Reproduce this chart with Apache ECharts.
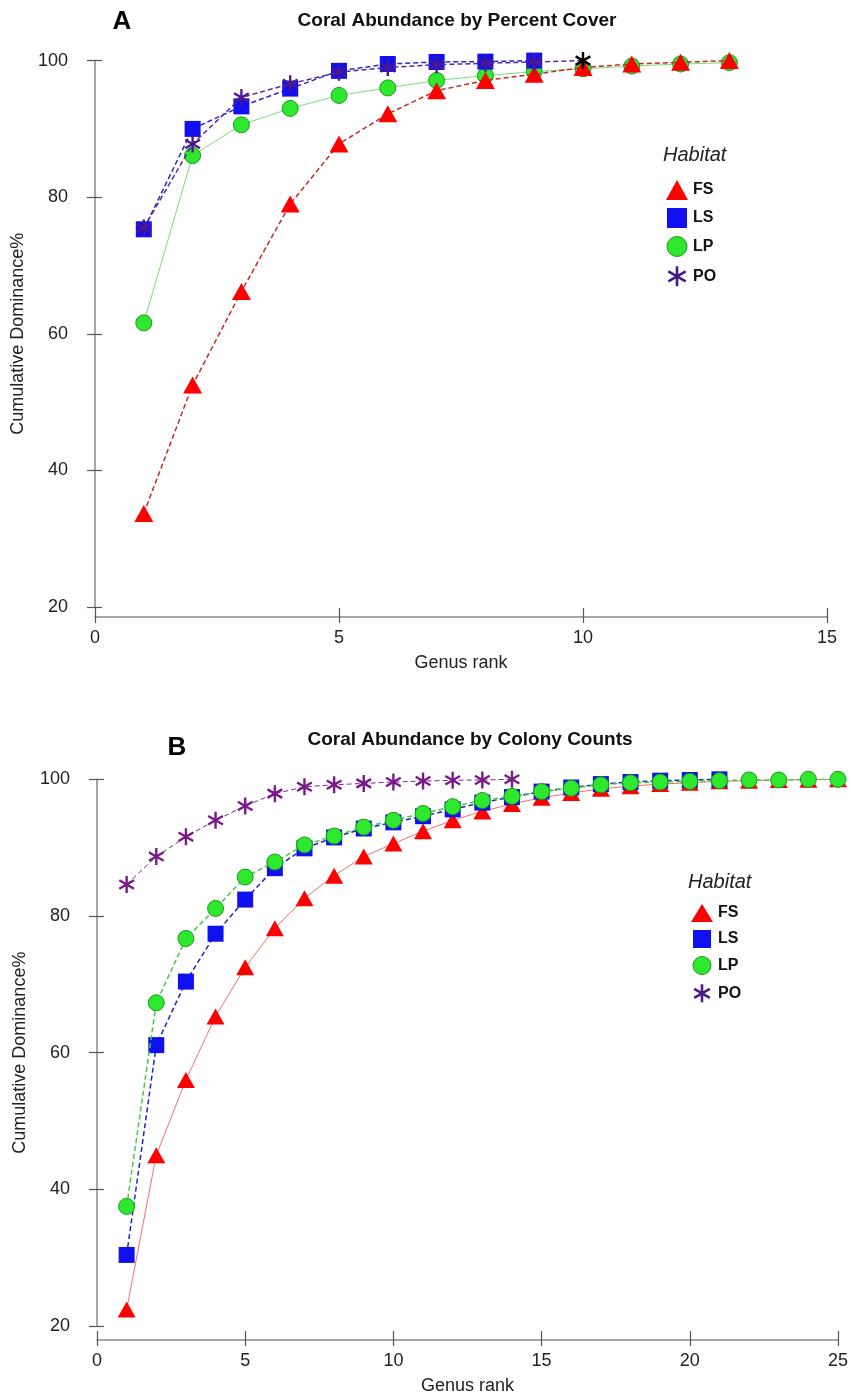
<!DOCTYPE html>
<html>
<head>
<meta charset="utf-8">
<title>Coral Abundance</title>
<script src="https://cdn.jsdelivr.net/npm/echarts@6/dist/echarts.min.js"></script>
<style>
  html, body { margin: 0; padding: 0; background: #fff; }
  #main { width: 851px; height: 1395px; }
</style>
</head>
<body>
<div id="main"></div>
<script>
// panel A : percent cover (value for genus rank 1, 2, 3 ...)
var fsA = [33.7, 52.5, 66.2, 79.0, 87.8, 92.2, 95.6, 97.1, 98.0, 99.0, 99.5, 99.75, 100];
var lsA = [75.3, 90.0, 93.3, 95.9, 98.5, 99.5, 99.8, 99.85, 100];
var lpA = [61.6, 86.1, 90.6, 93.0, 94.9, 96.0, 97.1, 97.8, 98.4, 98.8, 99.2, 99.5, 99.7];
var poA = [75.5, 87.8, 94.6, 96.6, 98.3, 99.0, 99.4, 99.6, 99.8, 100];

// panel B : colony counts
var fsB = [22.4, 45.0, 56.0, 65.3, 72.5, 78.2, 82.6, 85.9, 88.7, 90.6, 92.4, 94.0, 95.3, 96.4, 97.3, 98.0, 98.6, 99.0, 99.3, 99.5, 99.7, 99.8, 99.9, 99.95, 100];
var lsB = [30.4, 61.1, 70.4, 77.4, 82.4, 87.0, 89.9, 91.5, 92.8, 93.7, 94.6, 95.6, 96.6, 97.4, 98.2, 98.8, 99.3, 99.6, 99.8, 99.9, 100];
var lpB = [37.5, 67.3, 76.7, 81.1, 85.7, 87.9, 90.4, 91.7, 93.0, 94.0, 95.0, 96.0, 96.9, 97.5, 98.2, 98.7, 99.2, 99.5, 99.6, 99.7, 99.8, 99.9, 99.9, 100, 100];
var poB = [84.6, 88.7, 91.6, 94.0, 96.1, 97.9, 98.9, 99.2, 99.4, 99.6, 99.75, 99.85, 99.9, 100];

var habitats = ['FS', 'LS', 'LP', 'PO'];
var yTicks = [20, 40, 60, 80, 100];
var xTicksA = [0, 5, 10, 15];
var xTicksB = [0, 5, 10, 15, 20, 25];

var FONT = '"Liberation Sans", Arial, sans-serif';
var STAR = 'path://M10,0 L10,20 M1.34,5 L18.66,15 M1.34,15 L18.66,5';

function pts(arr) {
    return arr.map(function (v, i) { return [i + 1, v]; });
}

function line(name, data, gi, symbol, size, fill, border, lc, lt, lw, z) {
    return {
        name: name,
        type: 'line',
        xAxisIndex: gi * 2,
        yAxisIndex: gi * 2,
        data: data,
        symbol: symbol,
        symbolSize: size,
        symbolKeepAspect: true,
        showAllSymbol: true,
        z: z,
        itemStyle: { color: fill, borderColor: border.c, borderWidth: border.w },
        lineStyle: { color: lc, type: lt, width: lw },
        emphasis: { disabled: true }
    };
}

function xAx(gi, ticks, off, inner) {
    return {
        type: 'value', gridIndex: gi, position: 'bottom',
        min: ticks[0], max: ticks[ticks.length - 1], interval: ticks[1] - ticks[0],
        offset: off,
        name: inner ? '' : 'Genus rank',
        nameLocation: 'middle', nameGap: 37,
        nameTextStyle: { fontFamily: FONT, fontSize: 18, color: '#222' },
        axisLine: { show: !inner, lineStyle: { color: '#8a8a8a', width: 1.5 } },
        axisTick: { show: true, inside: inner, length: inner ? 9 : 6, lineStyle: { color: '#555', width: 1.2 } },
        axisLabel: { show: !inner, margin: 12, fontFamily: FONT, fontSize: 18, color: '#222' },
        splitLine: { show: false }
    };
}

function yAx(gi, off, inner, gap) {
    return {
        type: 'value', gridIndex: gi, position: 'left',
        min: yTicks[0], max: yTicks[yTicks.length - 1], interval: yTicks[1] - yTicks[0],
        offset: off,
        name: inner ? '' : 'Cumulative Dominance%',
        nameLocation: 'middle', nameGap: gap, nameRotate: 90,
        nameTextStyle: { fontFamily: FONT, fontSize: 18, color: '#222' },
        axisLine: { show: !inner, lineStyle: { color: '#8a8a8a', width: 1.5 } },
        axisTick: { show: true, inside: inner, length: inner ? 7 : 8, lineStyle: { color: '#555', width: 1.2 } },
        axisLabel: { show: !inner, margin: 12, fontFamily: FONT, fontSize: 18, color: '#222' },
        splitLine: { show: false }
    };
}

function legendFor(left, top, h, colors) {
    var icons = ['triangle', 'path://M0,0 H18 V18 H0 Z', 'circle', STAR];
    return {
        orient: 'vertical', left: left, top: top,
        itemWidth: 22, itemHeight: h, itemGap: 8,
        selectedMode: false,
        symbolKeepAspect: true,
        textStyle: { fontFamily: FONT, fontSize: 16, fontWeight: 'bold', color: '#111' },
        data: habitats.map(function (n, i) {
            var st = { color: colors[i], borderColor: colors[i], borderWidth: 0 };
            if (i === 2) { st.borderColor = '#1a9a1a'; st.borderWidth = 1; }
            if (i === 3) { st.borderWidth = 2.6; }
            return { name: n, icon: icons[i], itemStyle: st };
        })
    };
}

var poAData = pts(poA).map(function (p, i) {
    // last PO marker in panel A is drawn black
    return i === poA.length - 1 ? { value: p, itemStyle: { color: '#000', borderColor: '#000' } } : p;
});

var myChart = echarts.init(document.getElementById('main'), null, { renderer: 'canvas' });

var option = {
    backgroundColor: '#fff',
    animation: false,
    grid: [
        { left: 95, top: 60.6, width: 732, height: 546.4, outerBoundsMode: 'none' },
        { left: 97, top: 779.3, width: 741, height: 546.7, outerBoundsMode: 'none' }
    ],
    xAxis: [xAx(0, xTicksA, 10, false), xAx(0, xTicksA, 10, true), xAx(1, xTicksB, 14, false), xAx(1, xTicksB, 14, true)],
    yAxis: [yAx(0, 15, false, 50), yAx(0, 15, true, 0), yAx(1, 15, false, 52), yAx(1, 15, true, 0)],
    legend: [
        legendFor(661, 175, 20, ['#ff0000', '#1010f0', '#2ee82e', '#3e1a86']),
        legendFor(686, 899, 18, ['#ff0000', '#1010f0', '#2ee82e', '#4a1a86'])
    ],
    graphic: [
        { type: 'text', x: 122, y: 22, style: { text: 'A', font: 'bold 26px ' + FONT, fill: '#000', align: 'center', verticalAlign: 'middle' } },
        { type: 'text', x: 457, y: 21, style: { text: 'Coral Abundance by Percent Cover', font: 'bold 19px ' + FONT, fill: '#111', align: 'center', verticalAlign: 'middle' } },
        { type: 'text', x: 663, y: 155, style: { text: 'Habitat', font: 'italic 20px ' + FONT, fill: '#222', align: 'left', verticalAlign: 'middle' } },
        { type: 'text', x: 177, y: 748, style: { text: 'B', font: 'bold 26px ' + FONT, fill: '#000', align: 'center', verticalAlign: 'middle' } },
        { type: 'text', x: 470, y: 740, style: { text: 'Coral Abundance by Colony Counts', font: 'bold 19px ' + FONT, fill: '#111', align: 'center', verticalAlign: 'middle' } },
        { type: 'text', x: 688, y: 882, style: { text: 'Habitat', font: 'italic 20px ' + FONT, fill: '#222', align: 'left', verticalAlign: 'middle' } }
    ],
    series: [
        // panel A
        line('LP', pts(lpA), 0, 'circle', 16, '#2ee82e', { c: '#1a9a1a', w: 1 }, '#7ade7a', 'solid', 1, 2),
        line('FS', pts(fsA), 0, 'triangle', [19, 17], '#ff0000', { c: '#ff0000', w: 0 }, '#c42a2a', [5, 3], 1.5, 3),
        line('LS', pts(lsA), 0, 'rect', 16, '#1010f0', { c: '#1010f0', w: 0 }, '#2a2ac0', [5, 3], 1.5, 4),
        line('PO', poAData, 0, STAR, 17, '#4b1890', { c: '#4b1890', w: 2.4 }, '#5a2a9a', [5, 3], 1.5, 5),
        // panel B
        line('FS', pts(fsB), 1, 'triangle', [18, 16], '#ff0000', { c: '#ff0000', w: 0 }, '#f07070', 'solid', 1, 2),
        line('LS', pts(lsB), 1, 'rect', 16, '#1010f0', { c: '#1010f0', w: 0 }, '#1a2ab8', [5, 3], 1.5, 3),
        line('LP', pts(lpB), 1, 'circle', 16, '#2ee82e', { c: '#1a9a1a', w: 1 }, '#44cc44', [5, 3], 1.5, 4),
        line('PO', pts(poB), 1, STAR, 17, '#7a1a88', { c: '#7a1a88', w: 2.4 }, '#7a2a88', [5, 3], 1, 5)
    ]
};

myChart.setOption(option);
</script>
</body>
</html>
